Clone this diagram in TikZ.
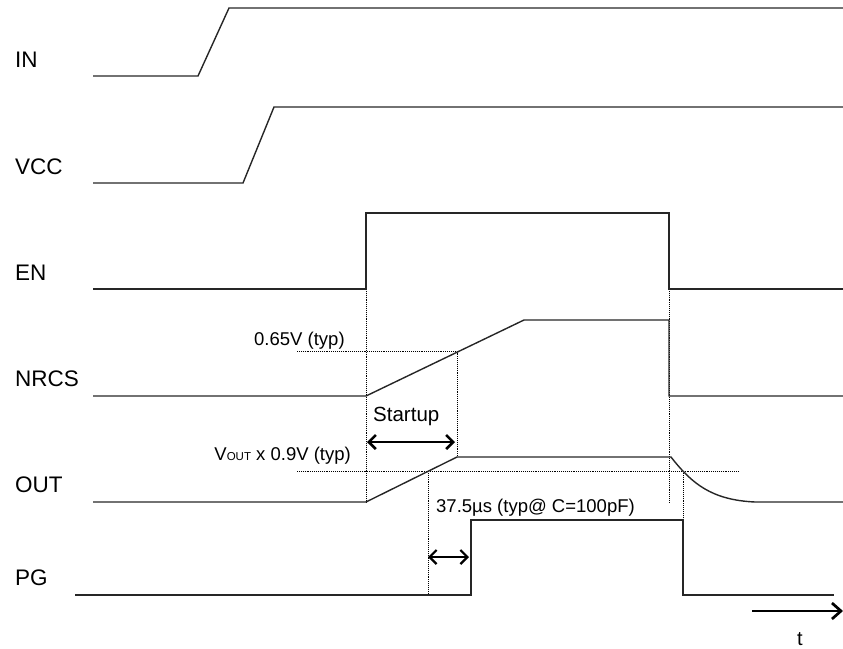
\documentclass[tikz,border=0pt]{standalone}
\usepackage{fontspec}
\setmainfont{Liberation Sans}
\usetikzlibrary{arrows.meta}
\begin{document}
\begin{tikzpicture}[x=1pt, y=-1pt]
    % Styles for the traces, the guide lines and the texts
    \tikzset{
        signal/.style={black!85, line width=1.4pt, line join=miter},
        guide/.style={black, line width=0.9pt, densely dotted},
        span/.style={black, line width=2.6pt, {Straight Barb[length=7pt, width=14pt]}-{Straight Barb[length=7pt, width=14pt]}},
        time_axis/.style={black, line width=2.7pt, -{Straight Barb[length=9pt, width=16pt]}},
        sig_name/.style={anchor=base west, inner sep=0pt, font=\fontsize{22.5}{27}\selectfont},
        note/.style={inner sep=0pt, font=\fontsize{18.5}{22}\selectfont}
    }
    \useasboundingbox (0,0) rectangle (843,648);

    % Edges shared by several traces
    \coordinate (EnOn) at (366, 289);
    \coordinate (EnOff) at (669, 289);
    \coordinate (SsCross) at (457, 351);
    \coordinate (PgRise) at (428, 595);
    \coordinate (PgFall) at (683, 595);

    % Signal names, baseline just above each low level
    \foreach \name/\txt/\y in {in/IN/67, vcc/VCC/174, en/EN/280, nrcs/NRCS/386, out/OUT/492, pg/PG/585} {
        \node[sig_name] (lbl-\name) at (15, \y) {\txt};
    }

    % Dotted guides
    \draw[guide] (EnOn) -- (366, 502);
    \draw[guide] (297, 351) -- (SsCross) -- (457, 457);
    \draw[guide] (297, 471) -- (738, 471);
    \draw[guide] (428, 471) -- (PgRise);
    \draw[guide] (EnOff) -- (669, 502);
    \draw[guide] (683, 471) -- (PgFall);

    % Traces
    \draw[signal] (93, 76) -- (198, 76) -- (229, 8) -- (843, 8);
    \draw[signal] (93, 183) -- (243, 183) -- (274, 107) -- (843, 107);
    \draw[signal] (93, 289) -- (EnOn) -- (366, 213) -- (669, 213) -- (EnOff) -- (843, 289);
    \draw[signal] (93, 396) -- (366, 396) -- (524, 320) -- (669, 320) -- (669, 396) -- (843, 396);
    \draw[signal] (93, 502) -- (366, 502) -- (457, 457) -- (671, 457)
        .. controls (692, 484) and (712, 500) .. (755, 502) -- (843, 502);
    \draw[signal] (75, 595) -- (471, 595) -- (471, 520) -- (683, 520) -- (PgFall) -- (834, 595);

    % Annotations
    \node[note, anchor=base west] (lbl-ss) at (254, 345) {0.65V (typ)};
    \node[note, anchor=base west, font=\fontsize{20.5}{24}\selectfont] (lbl-startup) at (373, 421) {Startup};
    \node[note, anchor=base east] (lbl-vout) at (351, 460) {V\raisebox{-0.5pt}{\fontsize{11.5}{12}\selectfont OUT} x 0.9V (typ)};
    \node[note, anchor=base west] (lbl-delay) at (436, 512) {37.5µs (typ@ C=100pF)};
    \coordinate (StartL) at (367, 442);
    \coordinate (StartR) at (455, 442);
    \draw[span] (StartL) -- (StartR);
    \coordinate (DelayL) at (428, 557);
    \coordinate (DelayR) at (469, 557);
    \draw[span, line width=2.2pt] (DelayL) -- (DelayR);

    % Time axis
    \coordinate (TStart) at (752, 611);
    \coordinate (TEnd) at (843, 611);
    \draw[time_axis] (TStart) -- (TEnd);
    \node[note, anchor=base, font=\fontsize{20}{24}\selectfont] (lbl-t) at (800, 645) {t};
\end{tikzpicture}
\end{document}
